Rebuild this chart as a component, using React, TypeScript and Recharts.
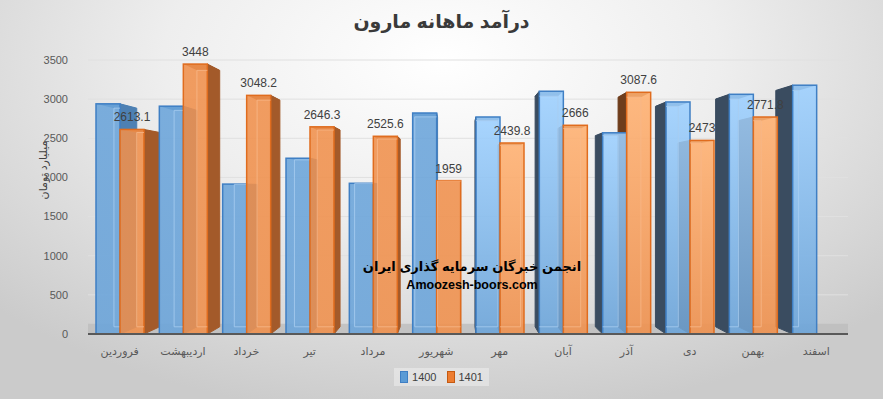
import { BarChart, Bar, XAxis, YAxis, CartesianGrid, Legend, LabelList, ReferenceArea } from "recharts";

const months = ["فروردین", "اردیبهشت", "خرداد", "تیر", "مرداد", "شهریور", "مهر", "آبان", "آذر", "دی", "بهمن", "اسفند"];
const rev1400 = [2940, 2910, 1915, 2245, 1925, 2823, 2772, 3101, 2570, 2964, 3062, 3178];
const rev1401 = [2613.1, 3448, 3048.2, 2646.3, 2525.6, 1959, 2439.8, 2666, 3087.6, 2473, 2771.8, null];
const yTicks = [0, 500, 1000, 1500, 2000, 2500, 3000, 3500];

const data = months.map((m, i) => ({ m, a: rev1400[i], b: rev1401[i] }));

// fake perspective: back face pulled toward this point
const VX = 455;
const VY = 190;
const T = 0.05;
const bk = (px: number, py: number) => [px + T * (VX - px), py + T * (VY - py)];
const pts = (arr: number[][]) => arr.map((p) => p.join(",")).join(" ");

function sideShape(rightCol: string, leftCol: string) {
  return (p: any) => {
    const { x, y, width: w, height: h } = p;
    if (!h || h <= 0) return <g />;
    const tl = bk(x, y), tr = bk(x + w, y), br = bk(x + w, y + h), bl = bk(x, y + h);
    const left = x + w / 2 < VX;
    const face = left
      ? [[x + w, y], tr, br, [x + w, y + h]]
      : [[x, y], tl, bl, [x, y + h]];
    return (
      <g>
        <polygon points={pts([[x, y], [x + w, y], tr, tl])} fill={left ? rightCol : leftCol} />
        <polygon points={pts(face)} fill={left ? rightCol : leftCol} stroke={left ? rightCol : leftCol} strokeWidth={1} />
      </g>
    );
  };
}

function frontShape(fill: string, light: string, stroke: string, inner: string, key: string) {
  return (p: any) => {
    const { x, y, width: w, height: h, index } = p;
    if (!h || h <= 0) return <g />;
    const tl = bk(x, y), tr = bk(x + w, y), bl = bk(x, y + h);
    const right = x + w / 2 > VX;
    const gid = `g-${key}-${index}`;
    // edges of the back face that show through the front
    const ex = right ? tr[0] : tl[0];
    const ey = right ? tr[1] : tl[1];
    const by = bl[1];
    const far = right ? x : x + w;
    return (
      <g>
        <defs>
          <linearGradient id={gid} x1="0" y1="0" x2="0" y2="1">
            <stop offset="0%" stopColor={right ? light : fill} />
            <stop offset="100%" stopColor={fill} />
          </linearGradient>
        </defs>
        <rect x={x} y={y} width={w} height={h} fill={`url(#${gid})`} fillOpacity={0.88} stroke={stroke} strokeWidth={1.5} />
        <polyline
          points={pts([[far, ey], [ex, ey], [ex, by], [far, by]])}
          fill="none"
          stroke={inner}
          strokeOpacity={0.8}
          strokeWidth={1}
        />
      </g>
    );
  };
}

const renderLegend = () => (
  <div style={{ display: "flex", justifyContent: "center" }}>
    <div style={{ display: "flex", alignItems: "center", gap: 4, padding: "3px 6px", background: "rgba(255,255,255,0.35)", fontSize: 11, color: "#404040" }}>
      <span style={{ width: 6, height: 10, background: "#5b9bd5", border: "1px solid #3f7fc4" }} />
      <span>1400</span>
      <span style={{ width: 6, height: 10, background: "#ed7d31", border: "1px solid #c55a11", marginLeft: 6 }} />
      <span>1401</span>
    </div>
  </div>
);

export default function App() {
  return (
    <div
      style={{
        position: "absolute",
        left: 0,
        top: 0,
        width: 883,
        height: 399,
        fontFamily: "'Liberation Sans', 'DejaVu Sans', sans-serif",
        background: "radial-gradient(ellipse 70% 90% at 50% 15%, #ffffff 0%, #eeeeee 45%, #cbcbcb 100%)",
      }}
    >
      <div style={{ position: "absolute", top: 10, width: 883, textAlign: "center", fontSize: 19, fontWeight: "bold", color: "#3a3a3a" }}>
        درآمد ماهانه مارون
      </div>
      <div style={{ position: "absolute", left: 43, top: 170, transform: "translate(-50%,-50%) rotate(-90deg)", fontSize: 11, color: "#404040", whiteSpace: "nowrap" }}>
        میلیارد تومان
      </div>
      <BarChart width={883} height={399} data={data} margin={{ top: 60, right: 35, left: 0, bottom: 5 }} barGap={0} barSize={24}>
        <CartesianGrid vertical={false} stroke="#e0e0e0" xAxisId="front" />
        <XAxis xAxisId="side" dataKey="m" hide />
        <XAxis
          xAxisId="front"
          dataKey="m"
          height={34}
          tickLine={false}
          tickMargin={7}
          axisLine={{ stroke: "#595959", strokeWidth: 2 }}
          tick={{ fontSize: 11, fill: "#595959" }}
          interval={0}
        />
        <YAxis
          width={88}
          domain={[0, 3500]}
          ticks={yTicks}
          axisLine={false}
          tickLine={false}
          tickMargin={14}
          tick={{ fontSize: 11, fill: "#595959" }}
        />
        <ReferenceArea xAxisId="front" y1={0} y2={130} fill="#bdbdbd" fillOpacity={0.8} stroke="none" />
        <Bar xAxisId="side" dataKey="a" legendType="none" isAnimationActive={false} shape={sideShape("#4d80b3", "#3a4c60")} />
        <Bar xAxisId="side" dataKey="b" legendType="none" isAnimationActive={false} shape={sideShape("#a35a2a", "#6e3d1c")} />
        <Bar xAxisId="front" dataKey="a" name="1400" isAnimationActive={false} shape={frontShape("#6aa4da", "#9dd0ff", "#3f7fc4", "#a9cdf0", "a")} />
        <Bar xAxisId="front" dataKey="b" name="1401" isAnimationActive={false} shape={frontShape("#f0904c", "#ffb070", "#e06c1e", "#f8b88a", "b")}>
          <LabelList dataKey="b" position="top" offset={8} fill="#404040" fontSize={12} />
        </Bar>
        <Legend verticalAlign="bottom" height={26} content={renderLegend} wrapperStyle={{ left: 0, width: 883 }} />
      </BarChart>
      <div style={{ position: "absolute", left: 472, top: 266, transform: "translate(-50%,-50%)", fontSize: 13, fontWeight: "bold", color: "#000", whiteSpace: "nowrap" }}>
        انجمن خبرگان سرمایه گذاری ایران
      </div>
      <div style={{ position: "absolute", left: 472, top: 285, transform: "translate(-50%,-50%)", fontSize: 12.5, fontWeight: "bold", color: "#000", whiteSpace: "nowrap" }}>
        Amoozesh-boors.com
      </div>
    </div>
  );
}
